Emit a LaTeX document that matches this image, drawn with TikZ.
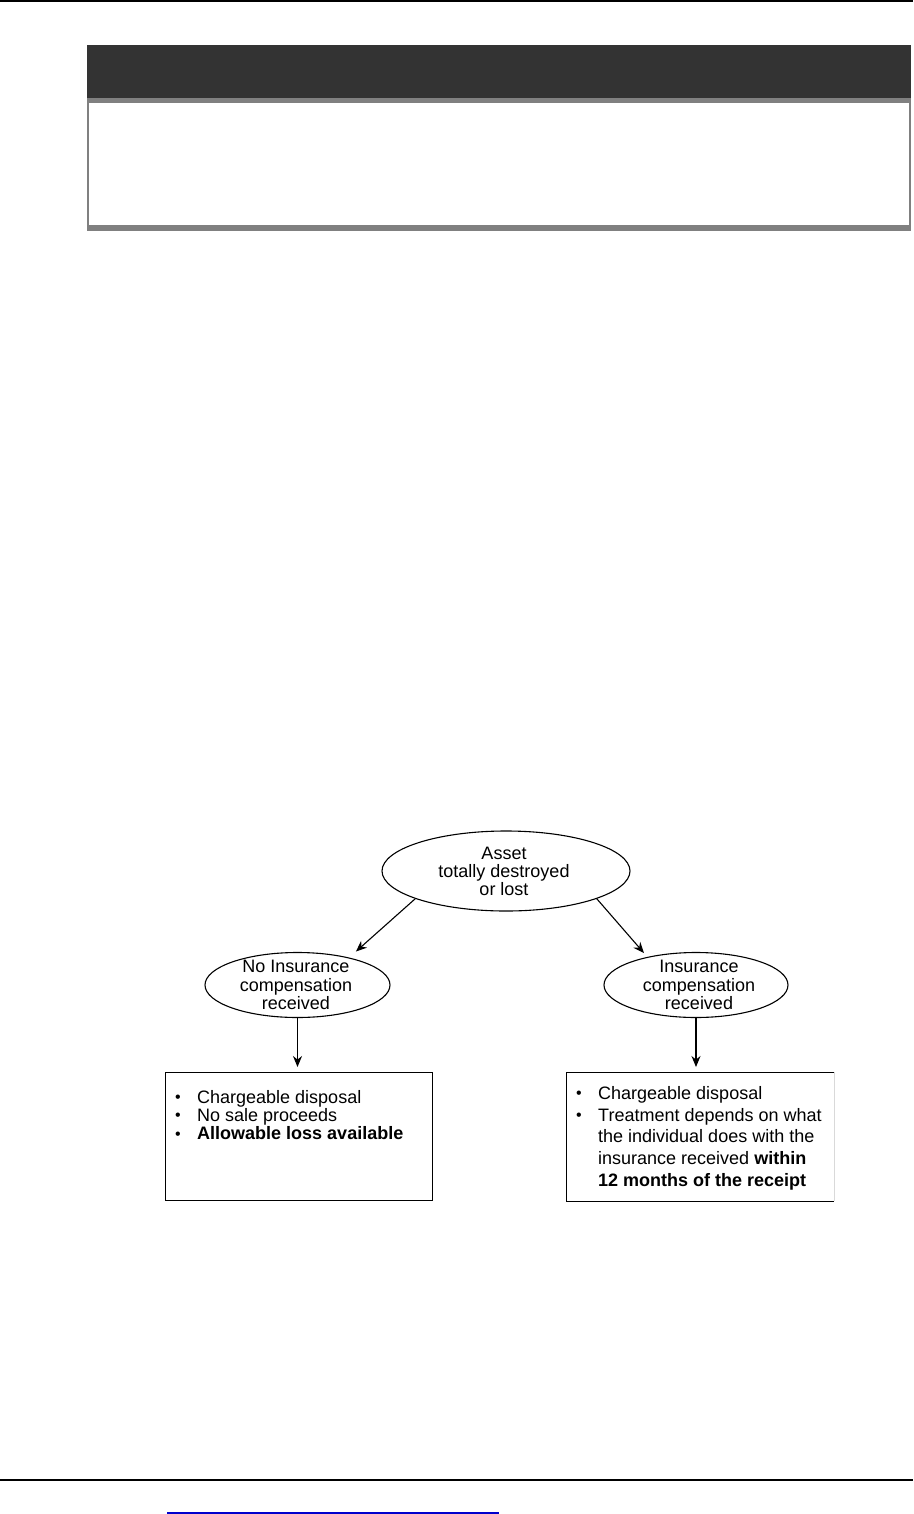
\documentclass[tikz,border=0pt]{standalone}
\usepackage{fontspec}
\setmainfont{Liberation Sans}
\usetikzlibrary{shapes.geometric,arrows.meta}
\definecolor{hdrdark}{HTML}{333333}
\definecolor{hdrgrey}{HTML}{808080}
\definecolor{linkblue}{RGB}{0,0,204}
\newcommand{\mybul}[1]{\makebox[#1][l]{\fontsize{16}{16}\selectfont\raisebox{0.8pt}{•}}}
\begin{document}
\begin{tikzpicture}[x=1pt,y=-1pt,
  oval/.style={ellipse,draw,line width=1.1pt,inner sep=0pt},
  ovaltext/.style={align=center,inner sep=0pt,font=\fontsize{18}{18.3}\selectfont},
  arr/.style={-{Stealth[length=11pt,width=9pt]},line width=1.1pt},
  infobox/.style={draw,line width=1pt,inner sep=0pt,anchor=north west,minimum width=267pt,minimum height=128pt},
  boxtext/.style={anchor=base west,inner sep=0pt}]
\useasboundingbox (0,0) rectangle (913,1514);
% page header rule and header panel
\fill[black] (0,0) rectangle (913,1.6);
\fill[hdrdark] (87,45) rectangle (910.5,98);
\fill[hdrgrey] (87,98) rectangle (910.5,103);
\fill[hdrgrey] (87,103) rectangle (88.6,225);
\fill[hdrgrey] (909,103) rectangle (910.5,225);
\fill[hdrgrey] (87,225) rectangle (910.5,231);
% ellipses
\node[oval,minimum width=248pt,minimum height=80pt] (top) at (506,871) {};
\node[ovaltext] (toptxt) at (504,871.5) {Asset\\totally destroyed\\or lost};
\node[oval,minimum width=185pt,minimum height=65pt] (left) at (297.5,985) {};
\node[ovaltext] (lefttxt) at (296,985) {No Insurance\\compensation\\received};
\node[oval,minimum width=184pt,minimum height=65pt] (right) at (696,985) {};
\node[ovaltext] (righttxt) at (699,985) {Insurance\\compensation\\received};
% boxes
\node[infobox] (lbox) at (165,1072) {};
\node[infobox,draw=none] (rbox) at (566,1072) {};
\draw[line width=1pt] (rbox.north east) -- (rbox.north west) -- (rbox.south west) -- (rbox.south east);
\draw[line width=0.6pt,black!15] (rbox.north east) -- (rbox.south east);
\node[boxtext] (ltext) at (175,1103) {\fontsize{18}{18}\selectfont
  \begin{tabular}[t]{@{}l@{}l@{}}
  \mybul{22pt} & Chargeable disposal\\
  \mybul{22pt} & No sale proceeds\\
  \mybul{22pt} & \textbf{Allowable loss available}
  \end{tabular}};
\node[boxtext] (rtext) at (576,1099.5) {\fontsize{18}{21.7}\selectfont
  \begin{tabular}[t]{@{}l@{}l@{}}
  \mybul{22pt} & Chargeable disposal\\
  \mybul{22pt} & Treatment depends on what\\
   & the individual does with the\\
   & insurance received \textbf{within}\\
   & \textbf{12 months of the receipt}
  \end{tabular}};
% connectors
\draw[arr,shorten >=9pt] (top.197) -- (left.28);
\draw[arr,shorten >=5pt] (top.343) -- (right.150);
\draw[arr,shorten >=5pt] (left.south) -- (left.south |- lbox.north);
\draw[arr,shorten >=5pt] (right.south) -- (right.south |- rbox.north);
% footer rules
\fill[black] (0,1479.3) rectangle (913,1480.8);
\fill[linkblue] (167,1512.4) rectangle (499,1513.8);
\end{tikzpicture}
\end{document}
